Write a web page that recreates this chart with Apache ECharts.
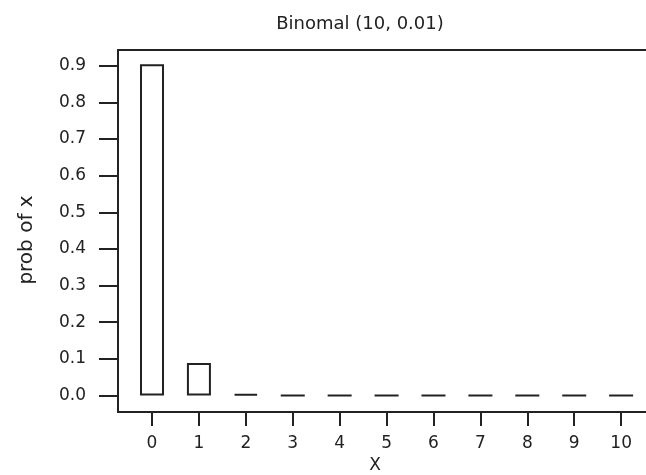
<!DOCTYPE html>
<html>
<head>
<meta charset="utf-8">
<title>Binomal (10, 0.01)</title>
<script src="https://cdn.jsdelivr.net/npm/echarts@6/dist/echarts.min.js"></script>
<style>
  html, body { margin: 0; padding: 0; background: #fff; }
  #chart { width: 646px; height: 475px; }
</style>
</head>
<body>
<div id="chart"></div>
<script>
// values
const xValues = [0, 1, 2, 3, 4, 5, 6, 7, 8, 9, 10];
const probs = [0.904, 0.089, 0.004, 0, 0, 0, 0, 0, 0, 0, 0];
const xTicks = [0, 1, 2, 3, 4, 5, 6, 7, 8, 9, 10];
const yTicks = [0, 0.1, 0.2, 0.3, 0.4, 0.5, 0.6, 0.7, 0.8, 0.9];

const ink = '#222';
const font = 'DejaVu Sans';
const xMin = -0.725;
const xMax = 10.53; // plot box runs off the right edge of the picture

const chart = echarts.init(document.getElementById('chart'));

chart.setOption({
  animation: false,
  backgroundColor: '#fff',
  title: {
    text: 'Binomal (10, 0.01)',
    left: 355,
    top: 10,
    textAlign: 'center',
    textStyle: { fontFamily: font, fontSize: 18, fontWeight: 'normal', color: ink },
  },
  grid: {
    left: 118,
    top: 50,
    bottom: 63,
    right: 0,
    outerBoundsMode: 'none',
  },
  xAxis: [{
    type: 'value',
    position: 'bottom',
    min: xMin,
    max: xMax,
    name: 'X',
    nameLocation: 'middle',
    nameGap: 44,
    nameTextStyle: { fontFamily: font, fontSize: 17, color: ink, padding: [0, 14, 0, 0] },
    splitLine: { show: false },
    axisLine: { show: true, onZero: false, lineStyle: { color: ink, width: 2 } },
    axisTick: { show: true, length: 14, customValues: xTicks, lineStyle: { color: ink, width: 2 } },
    axisLabel: {
      customValues: xTicks,
      margin: 23,
      fontFamily: font,
      fontSize: 17,
      color: ink,
    },
  }, {
    // top edge of the box
    type: 'value',
    position: 'top',
    min: xMin,
    max: xMax,
    splitLine: { show: false },
    axisLine: { show: true, onZero: false, lineStyle: { color: ink, width: 2 } },
    axisTick: { show: false },
    axisLabel: { show: false },
  }],
  yAxis: {
    type: 'value',
    min: -0.045,
    max: 0.943,
    name: 'prob of x',
    nameLocation: 'middle',
    nameRotate: 90,
    nameGap: 81,
    nameTextStyle: { fontFamily: font, fontSize: 20, color: ink, padding: [0, 18, 0, 0] },
    splitLine: { show: false },
    axisLine: { show: true, onZero: false, lineStyle: { color: ink, width: 2 } },
    axisTick: { show: true, length: 19, customValues: yTicks, lineStyle: { color: ink, width: 2 } },
    axisLabel: {
      customValues: yTicks,
      margin: 32,
      fontFamily: font,
      fontSize: 17,
      color: ink,
      formatter: function (v) { return v.toFixed(1); },
    },
  },
  series: [{
    type: 'bar',
    xAxisIndex: 0,
    barWidth: 24,
    data: xValues.map(function (x, i) { return [x, probs[i]]; }),
    itemStyle: { color: '#fff', borderColor: ink, borderWidth: 2 },
    emphasis: { disabled: true },
  }],
});
</script>
</body>
</html>
